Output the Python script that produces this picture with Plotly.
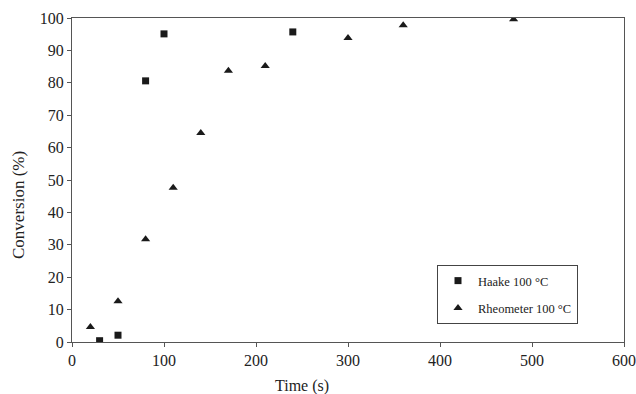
import plotly.graph_objects as go

haake_t = [30, 50, 80, 100, 240]
haake_c = [0.4, 2.1, 80.6, 95.1, 95.7]
rheo_t = [20, 50, 80, 110, 140, 170, 210, 300, 360, 480]
rheo_c = [4.6, 12.6, 31.7, 47.6, 64.5, 83.7, 85.2, 93.8, 97.8, 99.6]

font_family = "Liberation Serif"
ink = "#1a1a1a"
axis_col = "#555555"

fig = go.Figure()
fig.add_trace(go.Scatter(x=haake_t, y=haake_c, mode="markers", name="Haake 100 °C",
                         legendgroup="a",
                         marker=dict(symbol="square", size=7, color=ink)))
fig.add_trace(go.Scatter(x=rheo_t, y=rheo_c, mode="markers", name="Rheometer 100 °C",
                         legendgroup="b",
                         marker=dict(symbol="triangle-up", size=8, color=ink)))

L, R, T, B = 72, 12, 18, 52
W, H = 636, 394
pw, ph = W - L - R, H - T - B

fig.update_layout(
    width=W, height=H,
    margin=dict(l=L, r=R, t=T, b=B, autoexpand=False),
    plot_bgcolor="white", paper_bgcolor="white",
    font=dict(family=font_family, size=16, color="#222222"),
    showlegend=True,
    legend=dict(x=(437 - L) / pw, y=(H - B - 265) / ph, xanchor="left", yanchor="top",
                bordercolor="#444444", borderwidth=1, bgcolor="white",
                font=dict(family=font_family, size=12.5, color="#222222"),
                itemwidth=30, tracegroupgap=8),
    xaxis=dict(range=[0, 600], dtick=100, showgrid=False, zeroline=False,
               showline=True, linecolor=axis_col, linewidth=1, mirror=True,
               ticks="outside", ticklen=4, tickcolor=axis_col, automargin=False),
    yaxis=dict(range=[0, 100], dtick=10, showgrid=False, zeroline=False,
               showline=True, linecolor=axis_col, linewidth=1, mirror=True,
               ticks="outside", ticklen=4, tickcolor=axis_col, automargin=False),
    annotations=[
        dict(text="Time (s)", xref="paper", yref="paper",
             x=(302 - L) / pw, y=(H - B - 386) / ph, xanchor="center", yanchor="middle",
             showarrow=False, font=dict(size=16)),
        dict(text="Conversion (%)", xref="paper", yref="paper", textangle=-90,
             x=(18 - L) / pw, y=(H - B - 205) / ph, xanchor="center", yanchor="middle",
             showarrow=False, font=dict(size=17)),
    ],
)

fig.write_html("out.html")
